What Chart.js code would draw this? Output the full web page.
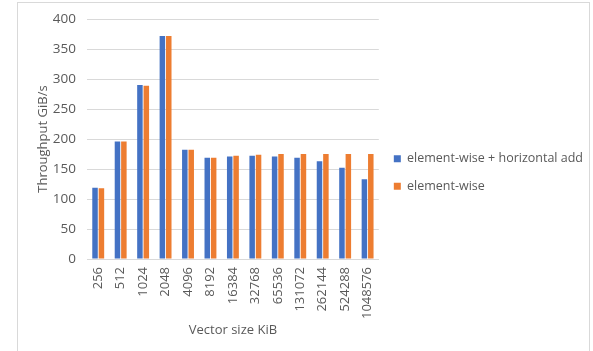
<!DOCTYPE html>
<html>
<head>
<meta charset="utf-8">
<script src="https://cdn.jsdelivr.net/npm/chart.js@4/dist/chart.umd.min.js"></script>
<style>
  html, body { margin: 0; padding: 0; background: #fff; }
  #wrap { position: relative; width: 593px; height: 351px; }
  #frame { position: absolute; left: 17px; top: 2px; width: 573px; height: 352px; border: 1px solid #d9d9d9; box-sizing: border-box; pointer-events: none; }
  canvas { position: absolute; left: 0; top: 0; }
</style>
</head>
<body>
<div id="wrap">
  <canvas id="c" width="593" height="351"></canvas>
  <div id="frame"></div>
</div>
<script>
// Vector sizes (KiB) on the x axis
const vectorSizes = ['256', '512', '1024', '2048', '4096', '8192', '16384', '32768',
                     '65536', '131072', '262144', '524288', '1048576'];

// Throughput in GiB/s
const elementWiseHAdd = [119, 196, 290, 372, 182, 169, 171, 172, 171, 169, 163, 152, 133];
const elementWise     = [118, 196, 289, 372, 182, 169, 172, 174, 175, 175, 175, 175, 175];

const seriesNames = ['element-wise + horizontal add', 'element-wise'];
const yTicks = [0, 50, 100, 150, 200, 250, 300, 350, 400];

const textColor = '#595959';
const fontFamily = '"Open Sans", "Liberation Sans", sans-serif';

new Chart(document.getElementById('c'), {
  type: 'bar',
  data: {
    labels: vectorSizes,
    datasets: [
      { label: seriesNames[0], data: elementWiseHAdd, backgroundColor: '#4472C4',
        categoryPercentage: 0.57, barPercentage: 0.86 },
      { label: seriesNames[1], data: elementWise, backgroundColor: '#ED7D31',
        categoryPercentage: 0.57, barPercentage: 0.86 }
    ]
  },
  options: {
    responsive: false,
    animation: false,
    layout: { padding: { left: 35, right: 0, top: 7, bottom: 13 } },
    plugins: {
      tooltip: { enabled: false },
      legend: {
        position: 'right',
        maxWidth: 216,
        labels: {
          boxWidth: 7, boxHeight: 7, padding: 15,
          color: textColor,
          font: { family: fontFamily, size: 12.5 }
        }
      }
    },
    scales: {
      x: {
        afterFit: s => { s.height = 79; },
        grid: { display: false, drawTicks: false },
        border: { display: true, color: '#d9d9d9', width: 1 },
        ticks: {
          color: textColor, minRotation: 90, maxRotation: 90, padding: 8,
          font: { family: fontFamily, size: 13 }
        },
        title: {
          display: true, text: 'Vector size KiB', color: textColor,
          font: { family: fontFamily, size: 13 }, padding: { top: 0, bottom: 0 }
        }
      },
      y: {
        min: 0, max: 400,
        afterFit: s => { s.width = 52; },
        afterBuildTicks: axis => { axis.ticks = yTicks.map(v => ({ value: v })); },
        grid: { color: '#d9d9d9', drawTicks: false },
        border: { display: false },
        ticks: {
          color: textColor, padding: 11,
          font: { family: fontFamily, size: 13.5 }
        },
        title: {
          display: true, text: 'Throughput GiB/s', color: textColor,
          font: { family: fontFamily, size: 13 }, padding: { top: 0, bottom: 0 }
        }
      }
    }
  }
});
</script>
</body>
</html>
